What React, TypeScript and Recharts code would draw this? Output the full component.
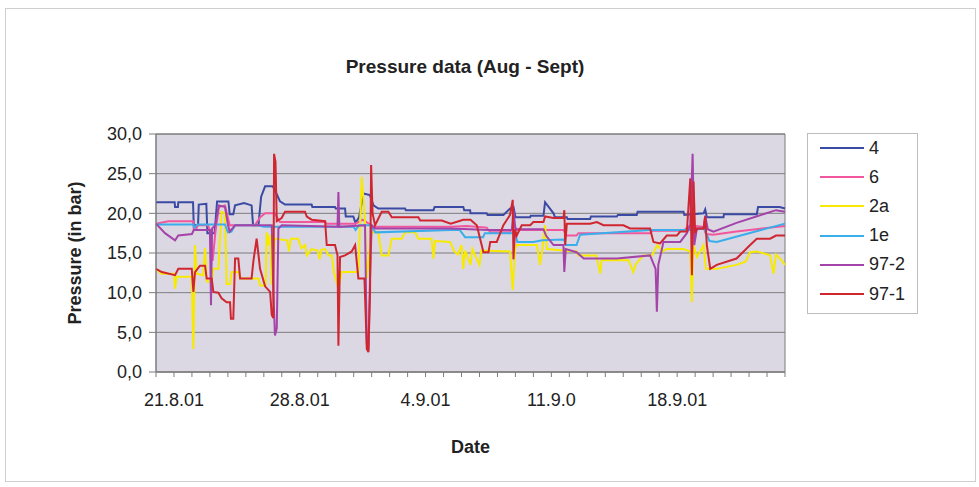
import { CartesianGrid, Line, LineChart, ReferenceArea, XAxis, YAxis } from "recharts";

type Pt = [number, number];

// x = days since 20.8.01, y = pressure in bar
const S4: Pt[] = [
  [0, 21.4], [1.04, 21.4], [1.06, 20.8], [1.22, 20.8], [1.24, 21.4], [2.06, 21.4], [2.1, 18.5],
  [2.34, 18.5], [2.38, 21.1], [2.8, 21.2], [2.86, 17.5], [3.26, 17.5], [3.4, 21.5], [4.03, 21.5],
  [4.1, 19.9], [4.3, 19.9], [4.4, 21.0], [4.9, 21.3], [5.32, 21.0], [5.4, 18.5], [5.7, 18.5],
  [5.85, 22.1], [6.07, 23.4], [6.5, 23.4], [6.7, 22.5], [6.9, 21.5], [7.18, 21.1], [8.66, 21.1],
  [8.7, 20.8], [9.96, 20.8], [10.0, 20.6], [10.52, 20.6], [10.56, 19.6], [10.98, 19.6], [11.1, 18.8],
  [11.3, 19.5], [11.54, 22.5], [11.9, 22.3], [12.1, 21.0], [12.37, 20.6], [13.86, 20.6], [13.9, 20.4],
  [15.44, 20.4], [15.5, 20.8], [17.1, 20.8], [17.15, 20.4], [17.48, 20.4], [17.5, 20.0], [18.4, 20.0],
  [18.45, 19.8], [19.33, 19.8], [19.7, 20.6], [19.89, 20.8], [20.0, 19.5], [20.82, 19.5], [20.85, 19.7],
  [21.56, 19.7], [21.65, 21.4], [22.12, 20.0], [22.2, 19.5], [22.86, 19.5], [22.9, 19.3], [24.16, 19.3],
  [24.2, 19.6], [25.64, 19.6], [25.7, 19.8], [26.75, 19.8], [26.8, 20.2], [29.35, 20.2], [29.4, 19.8],
  [30.47, 20.0], [30.56, 20.5], [30.65, 19.5], [31.58, 19.5], [31.6, 19.9], [33.43, 19.9], [33.5, 20.8],
  [34.7, 20.8], [35, 20.6],
];

const S6: Pt[] = [
  [0, 18.7], [0.69, 19.0], [2.06, 19.0], [2.1, 18.1], [2.26, 18.1], [2.3, 18.5], [2.9, 18.5],
  [3.0, 17.8], [3.15, 14.0], [3.3, 17.5], [3.5, 20.8], [3.84, 21.0], [4.1, 18.5], [5.5, 18.5],
  [5.8, 19.5], [6.07, 20.0], [6.6, 20.0], [6.9, 18.9], [9.41, 18.9], [9.5, 18.7], [11.1, 18.7],
  [11.5, 19.2], [11.9, 18.6], [12.1, 18.3], [16.4, 18.3], [17.3, 18.4], [18.4, 18.2], [18.6, 17.6],
  [19.7, 17.6], [19.9, 18.5], [20.1, 17.9], [22.7, 17.9], [22.8, 17.2], [23.4, 17.2], [23.5, 17.5],
  [27.5, 17.5], [27.6, 17.8], [29.35, 17.8], [29.7, 18.5], [30.47, 18.3], [30.6, 17.4], [31.0, 17.3],
  [32.3, 17.7], [33.4, 18.0], [35, 18.4],
];

const S2A: Pt[] = [
  [0, 13.0], [0.32, 12.4], [1.0, 12.4], [1.06, 10.5], [1.15, 12.0], [1.99, 12.0], [2.08, 2.9],
  [2.17, 16.0], [2.26, 12.4], [2.63, 12.2], [2.73, 15.6], [2.82, 11.4], [3.1, 11.4], [3.19, 13.0],
  [3.47, 13.0], [3.65, 20.2], [3.84, 20.0], [3.93, 11.1], [4.12, 11.1], [4.21, 12.6], [4.58, 12.6],
  [4.68, 11.8], [5.7, 11.8], [5.8, 10.9], [6.1, 10.9], [6.16, 17.6], [6.25, 16.0], [6.35, 17.3],
  [6.44, 11.0], [6.6, 16.8], [7.3, 16.6], [7.4, 15.2], [7.5, 16.8], [7.9, 16.8], [8.1, 15.6],
  [8.3, 16.0], [8.39, 14.7], [8.66, 15.5], [9.0, 15.3], [9.1, 14.2], [9.2, 15.4], [9.41, 15.5],
  [9.6, 14.7], [9.78, 14.7], [9.9, 12.6], [10.15, 10.5], [10.33, 12.6], [11.26, 12.6], [11.45, 24.6],
  [11.63, 19.0], [11.73, 11.8], [12.0, 17.6], [12.37, 17.6], [12.56, 14.7], [12.93, 14.7], [13.12, 16.8],
  [13.67, 16.8], [13.86, 17.6], [14.42, 17.6], [14.6, 16.8], [15.34, 16.8], [15.44, 14.3], [15.53, 16.5],
  [16.36, 16.4], [16.6, 15.2], [16.8, 14.8], [17.0, 16.0], [17.1, 13.0], [17.2, 15.3], [17.5, 13.5],
  [17.6, 15.5], [18.0, 13.5], [18.1, 15.3], [19.7, 15.2], [19.85, 10.3], [19.98, 15.5], [20.07, 16.0],
  [21.2, 16.0], [21.37, 13.5], [21.5, 15.5], [21.65, 18.5], [21.75, 15.5], [22.7, 15.3], [23.4, 15.2],
  [23.5, 14.7], [24.5, 14.7], [24.72, 12.4], [24.8, 14.1], [26.3, 14.1], [26.56, 12.6], [26.7, 13.6],
  [27.12, 14.7], [27.6, 14.7], [27.9, 16.0], [28.2, 15.2], [28.4, 15.5], [29.35, 15.5], [29.73, 15.2],
  [29.82, 8.8], [29.9, 16.0], [30.1, 14.5], [30.47, 16.0], [30.6, 13.0], [31.2, 13.0], [32.3, 13.5],
  [32.8, 13.9], [33.06, 15.1], [33.43, 15.2], [34.17, 14.7], [34.36, 12.4], [34.5, 14.8], [34.73, 14.3],
  [35, 13.5],
];

const S1E: Pt[] = [
  [0, 18.6], [2.06, 18.6], [2.15, 18.2], [2.3, 18.6], [3.84, 18.6], [4.0, 17.6], [4.2, 17.7],
  [4.4, 18.5], [5.7, 18.5], [6.0, 18.3], [11.0, 18.3], [11.1, 17.9], [11.3, 18.5], [12.0, 18.5],
  [12.2, 17.6], [16.4, 17.9], [16.9, 17.9], [17.2, 17.0], [18.2, 17.0], [18.3, 17.5], [20.0, 17.5],
  [20.1, 16.4], [21.0, 16.4], [21.5, 16.6], [22.7, 16.7], [22.8, 16.0], [23.4, 16.0], [23.6, 17.3],
  [27.5, 17.9], [29.7, 17.9], [30.5, 18.1], [30.8, 16.5], [31.2, 16.4], [33.0, 17.5], [35, 18.7],
];

const S97_2: Pt[] = [
  [0, 18.7], [0.5, 17.5], [1.06, 16.6], [1.24, 17.2], [2.0, 17.4], [2.1, 17.9], [3.0, 17.9],
  [3.06, 8.4], [3.12, 18.1], [3.3, 18.5], [3.5, 21.0], [3.84, 20.8], [4.0, 18.6], [4.1, 17.7],
  [4.4, 18.5], [6.44, 18.5], [6.53, 10.0], [6.62, 4.6], [6.72, 5.5], [6.81, 18.1], [7.0, 18.5],
  [10.1, 18.3], [10.15, 22.7], [10.2, 18.3], [11.63, 18.5], [11.73, 3.5], [11.82, 2.7], [11.91, 12.0],
  [12.0, 18.5], [12.2, 18.1], [16.4, 18.1], [18.5, 17.9], [19.8, 17.9], [19.89, 20.4], [20.0, 18.0],
  [21.56, 18.0], [21.7, 17.2], [22.12, 16.0], [22.67, 16.0], [22.72, 12.6], [22.8, 15.5], [23.4, 15.1],
  [23.8, 14.3], [25.64, 14.3], [27.49, 14.7], [27.8, 13.0], [27.87, 7.6], [27.95, 13.5], [28.24, 16.4],
  [29.17, 16.4], [29.54, 17.5], [29.73, 18.5], [29.86, 27.5], [29.95, 16.0], [30.1, 18.1], [30.47, 18.1],
  [30.56, 19.7], [30.7, 18.0], [31.02, 17.7], [32.3, 18.8], [33.4, 19.6], [34.5, 20.4], [35, 20.2],
];

const S97_1: Pt[] = [
  [0, 13.0], [0.32, 12.6], [1.06, 12.2], [1.24, 13.0], [1.99, 13.0], [2.08, 10.1], [2.17, 12.6],
  [2.45, 13.4], [2.73, 13.4], [2.82, 11.8], [3.1, 11.8], [3.19, 10.1], [3.47, 10.0], [3.65, 9.3],
  [3.93, 8.8], [4.12, 8.8], [4.17, 6.7], [4.3, 6.7], [4.4, 14.3], [4.58, 14.3], [4.68, 11.8],
  [5.32, 11.8], [5.42, 14.0], [5.6, 16.8], [5.79, 13.0], [6.07, 10.8], [6.35, 10.1], [6.44, 7.2],
  [6.53, 6.8], [6.57, 27.5], [6.65, 26.5], [6.72, 19.0], [6.99, 19.4], [7.18, 20.2], [8.29, 20.2],
  [8.39, 19.6], [8.66, 19.2], [9.41, 19.0], [9.5, 16.0], [9.96, 16.0], [10.1, 14.7], [10.15, 3.3],
  [10.24, 14.5], [10.52, 14.7], [10.89, 15.2], [11.08, 16.0], [11.26, 11.8], [11.6, 11.8], [11.73, 2.9],
  [11.82, 2.5], [11.91, 10.0], [11.97, 26.1], [12.05, 20.0], [12.19, 18.5], [12.56, 20.2], [12.93, 20.2],
  [13.12, 19.5], [14.6, 19.5], [14.7, 19.1], [15.9, 19.1], [16.4, 18.7], [17.1, 19.2], [17.5, 19.2],
  [17.85, 18.5], [18.22, 15.1], [18.5, 15.1], [18.6, 16.4], [18.96, 16.4], [19.33, 18.5], [19.7, 19.8],
  [19.85, 21.7], [19.89, 14.2], [19.98, 18.0], [20.07, 17.2], [20.35, 18.5], [20.82, 18.5], [21.0, 18.9],
  [21.56, 18.9], [21.65, 19.6], [22.12, 19.4], [22.67, 19.4], [22.72, 20.4], [22.77, 16.0], [22.86, 18.7],
  [24.16, 18.7], [24.53, 18.9], [24.9, 18.5], [26.01, 18.5], [26.38, 18.1], [27.49, 18.1], [27.68, 16.4],
  [28.05, 16.2], [28.42, 17.2], [28.98, 17.2], [29.17, 17.7], [29.54, 17.7], [29.73, 24.4], [29.82, 12.2],
  [29.91, 24.0], [30.0, 17.5], [30.1, 18.1], [30.47, 18.1], [30.56, 19.6], [30.65, 16.0], [30.84, 13.0],
  [31.2, 13.5], [32.3, 14.3], [33.06, 16.0], [33.43, 16.8], [34.17, 16.8], [34.5, 17.2], [35, 17.2],
];

const DATE_LABELS = ["21.8.01", "28.8.01", "4.9.01", "11.9.0", "18.9.01"];
const DATE_LABEL_DAYS = [1, 8, 15, 22, 29];
const Y_TICKS = [0, 5, 10, 15, 20, 25, 30];

const SERIES = [
  { name: "4", color: "#3b4aa3", pts: S4 },
  { name: "6", color: "#f2569d", pts: S6 },
  { name: "2a", color: "#f7ea00", pts: S2A },
  { name: "1e", color: "#3aaeea", pts: S1E },
  { name: "97-2", color: "#a544a8", pts: S97_2 },
  { name: "97-1", color: "#cf2630", pts: S97_1 },
];

const FONT = "'Liberation Sans', Arial, sans-serif";
const DAY_TICKS = Array.from({ length: 36 }, (_, i) => i);

function fmtDay(d: number) {
  const i = DATE_LABEL_DAYS.indexOf(d);
  return i >= 0 ? DATE_LABELS[i] : "";
}

export default function App() {
  return (
    <div
      style={{
        position: "absolute",
        left: 0,
        top: 0,
        width: 979,
        height: 487,
        background: "#fff",
        fontFamily: FONT,
        color: "#222",
      }}
    >
      <div
        style={{
          position: "absolute",
          left: 5,
          top: 8,
          width: 969,
          height: 472,
          border: "1px solid #cfcfcf",
        }}
      />
      <div
        style={{
          position: "absolute",
          left: 265,
          top: 55,
          width: 400,
          textAlign: "center",
          fontSize: 19,
          fontWeight: "bold",
          lineHeight: "24px",
        }}
      >
        Pressure data (Aug - Sept)
      </div>
      <LineChart
        width={979}
        height={487}
        margin={{ top: 134, right: 194, bottom: 75, left: 56 }}
        style={{ position: "absolute", left: 0, top: 0 }}
      >
        <CartesianGrid vertical={false} fill="#dbd8e4" stroke="#7d7d7d" />
        <XAxis
          dataKey="t"
          type="number"
          domain={[0, 35]}
          ticks={DAY_TICKS}
          interval={0}
          tickFormatter={fmtDay}
          height={40}
          tickSize={5}
          tickMargin={16}
          stroke="#7d7d7d"
          tick={{ fill: "#222", fontSize: 18, fontFamily: FONT }}
          label={{
            value: "Date",
            position: "bottom",
            offset: 28,
            style: { fill: "#222", fontSize: 18, fontWeight: "bold", fontFamily: FONT },
          }}
        />
        <YAxis
          type="number"
          domain={[0, 30]}
          ticks={Y_TICKS}
          interval={0}
          width={100}
          tickSize={7}
          tickMargin={7}
          stroke="#7d7d7d"
          tickFormatter={(v: number) => v.toFixed(1).replace(".", ",")}
          tick={{ fill: "#222", fontSize: 18, fontFamily: FONT }}
          label={{
            value: "Pressure (in bar)",
            angle: -90,
            position: "insideLeft",
            offset: 19,
            style: { textAnchor: "middle", fill: "#222", fontSize: 18, fontWeight: "bold", fontFamily: FONT },
          }}
        />
        <ReferenceArea x1={0} x2={35} y1={0} y2={30} fill="none" stroke="#7d7d7d" ifOverflow="visible" />
        {SERIES.map((s) => (
          <Line
            key={s.name}
            name={s.name}
            data={s.pts.map(([t, v]) => ({ t, v }))}
            dataKey="v"
            type="linear"
            stroke={s.color}
            strokeWidth={2}
            dot={false}
            activeDot={false}
            isAnimationActive={false}
          />
        ))}
      </LineChart>
      <div
        style={{
          position: "absolute",
          left: 807,
          top: 133,
          width: 109,
          height: 179,
          border: "1px solid #bdbdbd",
          background: "#fff",
        }}
      >
        {SERIES.map((s, i) => (
          <div
            key={s.name}
            style={{
              position: "absolute",
              left: 12,
              top: 14 + i * 29.2 - 11,
              height: 22,
              display: "flex",
              alignItems: "center",
              fontSize: 18,
            }}
          >
            <span style={{ display: "inline-block", width: 44, height: 2, background: s.color, marginRight: 5 }} />
            <span>{s.name}</span>
          </div>
        ))}
      </div>
    </div>
  );
}
